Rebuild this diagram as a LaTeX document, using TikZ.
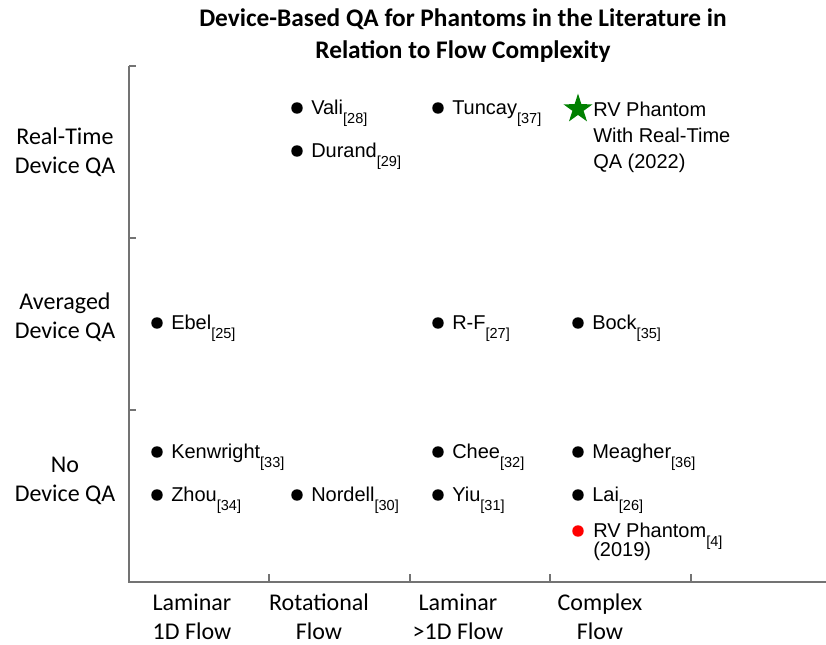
\documentclass[tikz,border=0pt]{standalone}
\usepackage{fontspec}
\setmainfont{Liberation Sans}
\newfontfamily\calfont{Carlito}
\usetikzlibrary{shapes.geometric}

% lowered, smaller reference number after a name
\newcommand{\refsub}[1]{\raisebox{-6.75pt}{\fontsize{10.9pt}{12pt}\selectfont[#1]}}

\tikzset{
  axisline/.style={draw=black!55, line width=1pt},
  dotmark/.style={circle, fill=black, inner sep=0pt, minimum size=8.6pt},
  reddot/.style={circle, fill=red, inner sep=0pt, minimum size=8.6pt},
  starmark/.style={star, star points=5, star point ratio=2.6, fill=green!50!black, inner sep=0pt, minimum size=23pt},
  entry/.style={anchor=base west, inner sep=0pt, font=\fontsize{15pt}{19pt}\selectfont},
  axislabel/.style={align=center, inner sep=0pt, font=\calfont\fontsize{18pt}{21.75pt}\selectfont},
  titletext/.style={align=center, inner sep=0pt, font=\calfont\bfseries\fontsize{19pt}{24pt}\selectfont},
}

\begin{document}
\begin{tikzpicture}[x=0.75pt, y=-0.75pt]
\useasboundingbox (0,0) rectangle (826,644);

% title
\node[titletext] (title) at (463,36) {Device-Based QA for Phantoms in the Literature in\\Relation to Flow Complexity};

% axes
\coordinate (ytop) at (129,66);
\coordinate (orig) at (129,582);
\coordinate (xend) at (826,582);
\draw[axisline] (ytop) -- (orig) -- (xend);
\foreach \yy in {66,238,410} \draw[axisline] (129,\yy) -- (136,\yy);
\foreach \xx in {269,410,550,691} \draw[axisline] (\xx,582) -- (\xx,574);

% row labels
\node[axislabel] (rowrt) at (65,152) {Real-Time\\Device QA};
\node[axislabel] (rowav) at (65,317) {Averaged\\Device QA};
\node[axislabel] (rowno) at (65,481) {No\\Device QA};

% column labels
\node[axislabel] (collam) at (192,617) {Laminar\\1D Flow};
\node[axislabel] (colrot) at (319,617) {Rotational\\Flow};
\node[axislabel] (colmulti) at (458,617) {Laminar\\>1D Flow};
\node[axislabel] (colcomp) at (600,617) {Complex\\Flow};

% real-time device QA
\node[dotmark] (vali) at (297,108) {};
\node[entry] (valiL) at (311,114) {Vali\refsub{28}};
\node[dotmark] (durand) at (297,151) {};
\node[entry] (durandL) at (311,157) {Durand\refsub{29}};
\node[dotmark] (tuncay) at (438,108) {};
\node[entry] (tuncayL) at (452,114) {Tuncay\refsub{37}};
\node[starmark] (rvnew) at (578,109) {};
\node[entry] (rvnewA) at (593,116) {RV Phantom};
\node[entry] (rvnewB) at (593,142) {With Real-Time};
\node[entry] (rvnewC) at (593,168) {QA (2022)};

% averaged device QA
\node[dotmark] (ebel) at (157,323) {};
\node[entry] (ebelL) at (171,329) {Ebel\refsub{25}};
\node[dotmark] (rf) at (438,323) {};
\node[entry] (rfL) at (452,329) {R-F\refsub{27}};
\node[dotmark] (bock) at (578,323) {};
\node[entry] (bockL) at (592,329) {Bock\refsub{35}};

% no device QA
\node[dotmark] (kenw) at (157,452) {};
\node[entry] (kenwL) at (171,458) {Kenwright\refsub{33}};
\node[dotmark] (chee) at (438,452) {};
\node[entry] (cheeL) at (452,458) {Chee\refsub{32}};
\node[dotmark] (meagher) at (578,452) {};
\node[entry] (meagherL) at (592,458) {Meagher\refsub{36}};
\node[dotmark] (zhou) at (157,495) {};
\node[entry] (zhouL) at (171,501) {Zhou\refsub{34}};
\node[dotmark] (nordell) at (297,495) {};
\node[entry] (nordellL) at (311,501) {Nordell\refsub{30}};
\node[dotmark] (yiu) at (438,495) {};
\node[entry] (yiuL) at (452,501) {Yiu\refsub{31}};
\node[dotmark] (lai) at (578,495) {};
\node[entry] (laiL) at (592,501) {Lai\refsub{26}};
\node[reddot] (rvold) at (578,531) {};
\node[entry] (rvoldL) at (593,537) {RV Phantom\refsub{4}};
\node[entry] (rvoldY) at (593,556) {(2019)};
\end{tikzpicture}
\end{document}
